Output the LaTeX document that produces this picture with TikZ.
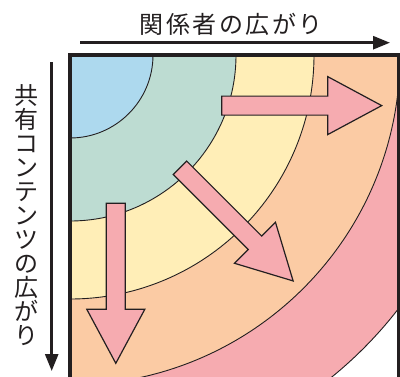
\documentclass[tikz,border=0pt]{standalone}
\usepackage{fontspec}
\newfontfamily\cjk{Noto Sans CJK JP}
\usetikzlibrary{arrows.meta}
\definecolor{cblue}{RGB}{173,217,238}
\definecolor{cgreen}{RGB}{189,220,210}
\definecolor{cyellow}{RGB}{255,238,183}
\definecolor{corange}{RGB}{251,203,164}
\definecolor{cpink}{RGB}{246,171,176}
\definecolor{ink}{RGB}{35,31,32}
\tikzset{
  ring/.style={draw=ink, line width=0.9pt},
  frame/.style={draw=ink, line width=3.2pt, line join=miter},
  blockstyle/.style={draw=ink, fill=cpink, line width=1.2pt, line join=miter},
  axisarrow/.style={draw=ink, line width=2.7pt, -{Triangle[length=17pt,width=13pt]}},
  jtext/.style={font=\cjk\fontsize{24}{24}\selectfont, text=ink, inner sep=0pt, anchor=base},
  blockarrow/.pic={
    \path[blockstyle] (0,-9.5) -- (106,-9.5) -- (106,-29) -- (160,0) -- (106,29) -- (106,9.5) -- (0,9.5) -- cycle;
  }
}
\begin{document}
\begin{tikzpicture}[x=1pt,y=-1pt]
\useasboundingbox (0,0) rectangle (400,376);
\coordinate (o) at (70,55);
\begin{scope}
  \clip (70,55) rectangle (398.5,420);
  \path[ring, fill=cpink] (o) circle (415pt);
  \path[ring, fill=corange] (o) circle (330pt);
  \path[ring, fill=cyellow] (o) circle (244pt);
  \path[ring, fill=cgreen] (o) circle (166pt);
  \path[ring, fill=cblue] (o) circle (83pt);
\end{scope}
\path[frame] (70,420) -- (70,55) -- (398.5,55) -- (398.5,420);
\pic[rotate=0] at (221.7,105.6) {blockarrow};
\pic[rotate=-45] at (180,167.8) {blockarrow};
\pic[rotate=-90] at (115.8,203.3) {blockarrow};
\coordinate (h0) at (80,42.7);
\coordinate (h1) at (390,42.7);
\coordinate (v0) at (51.7,62);
\coordinate (v1) at (51.7,371);
\path[axisarrow] (h0) -- (h1);
\path[axisarrow] (v0) -- (v1);
\foreach \c [count=\i] in {関,係,者,の,広,が,り}
  \node[jtext] (h\i) at ({151.5+(\i-1)*26.5},33.5) {\c};
\foreach \c [count=\i] in {共,有,コ,ン,テ,ン,ツ,の,広,が,り}
  \node[jtext] (v\i) at (26,{104.6+(\i-1)*24}) {\c};
\end{tikzpicture}
\end{document}
